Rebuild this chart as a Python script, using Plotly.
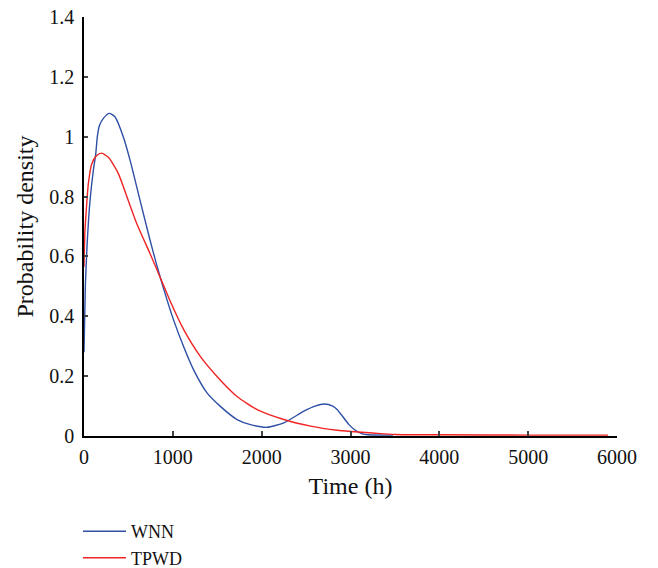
import plotly.graph_objects as go

# WNN density curve
wnn_time = [0, 15, 35, 68, 105, 132, 150, 173, 220, 285, 350, 443, 520, 612, 743, 820,
            893, 1008, 1121, 1234, 1385, 1535, 1723, 1874, 2060, 2250, 2475, 2600, 2706,
            2800, 2852, 2983, 3050, 3126, 3200, 3480]
wnn_density = [0.28, 0.5, 0.64, 0.787, 0.887, 0.942, 1.0, 1.037, 1.062, 1.078, 1.066, 0.999,
               0.92, 0.81, 0.655, 0.57, 0.495, 0.388, 0.299, 0.221, 0.144, 0.099, 0.055,
               0.038, 0.029, 0.044, 0.083, 0.1, 0.107, 0.1, 0.088, 0.038, 0.02, 0.008, 0.004,
               0.003]

# TPWD density curve
tpwd_time = [0, 10, 23, 49, 87, 143, 200, 275, 388, 500, 593, 743, 820, 893, 971, 1121,
             1309, 1497, 1723, 1949, 2250, 2551, 2852, 3002, 3250, 3500, 4000, 5000, 5900]
tpwd_density = [0.565, 0.68, 0.743, 0.843, 0.909, 0.937, 0.945, 0.931, 0.876, 0.785, 0.71,
                0.61, 0.556, 0.505, 0.45, 0.356, 0.266, 0.199, 0.132, 0.088, 0.055, 0.033,
                0.019, 0.015, 0.01, 0.005, 0.004, 0.003, 0.003]

x_ticks = [0, 1000, 2000, 3000, 4000, 5000, 6000]

FONT = "Liberation Serif"

fig = go.Figure()
fig.add_trace(go.Scatter(x=wnn_time, y=wnn_density, mode="lines", name="WNN",
                         line=dict(color="#2E4FA5", width=1.4, shape="spline", smoothing=0.6)))
fig.add_trace(go.Scatter(x=tpwd_time, y=tpwd_density, mode="lines", name="TPWD",
                         line=dict(color="#F02424", width=1.4, shape="spline", smoothing=0.6)))

fig.update_layout(
    width=658,
    height=568,
    # fixed plot box; nothing may push the margins
    margin=dict(l=84, r=41, t=17, b=131.5, autoexpand=False),
    paper_bgcolor="white",
    plot_bgcolor="white",
    font=dict(family=FONT, size=20, color="#111111"),
    showlegend=True,
    legend=dict(
        x=-0.0113, xanchor="left",
        y=-0.184, yanchor="top",
        font=dict(family=FONT, size=18),
        bgcolor="rgba(0,0,0,0)",
        itemwidth=43,
        tracegroupgap=0,
    ),
)
fig.update_xaxes(
    range=[0, 6000], tickvals=x_ticks, ticks="inside", ticklen=5, tickwidth=1.5,
    showline=True, linecolor="black", linewidth=1.5, showgrid=False, zeroline=False,
    title=dict(text="Time (h)", standoff=10), ticklabelstandoff=2,
)
fig.update_yaxes(
    range=[0, 1.4], dtick=0.2, tick0=0, ticks="inside", ticklen=4, tickwidth=1.5,
    showline=True, linecolor="black", linewidth=1.5, showgrid=False, zeroline=False,
    title=dict(text="Probability density", standoff=9), ticklabelstandoff=4,
)

fig.write_html("out.html", config={"displayModeBar": False},
               post_script="document.body.style.margin='0';")
